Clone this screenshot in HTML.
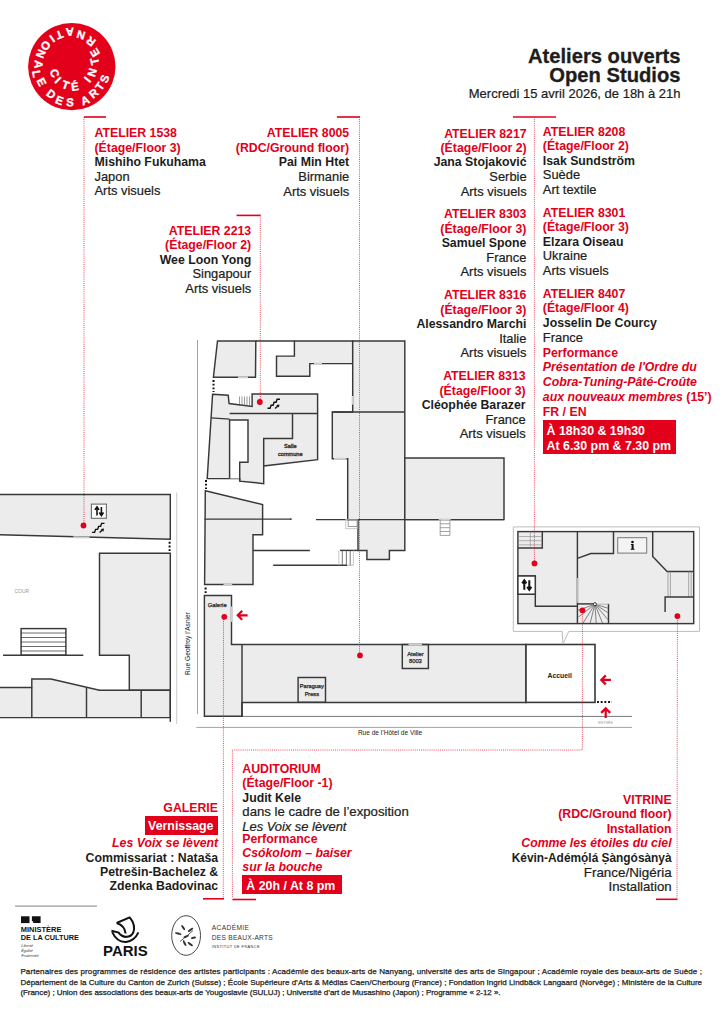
<!DOCTYPE html>
<html><head><meta charset="utf-8"><title>Ateliers ouverts</title><style>
*{margin:0;padding:0;box-sizing:border-box}
html,body{width:724px;height:1024px;overflow:hidden;background:#fff}
body{position:relative;font-family:"Liberation Sans",sans-serif;color:#1d1d1b}
.b{position:absolute;white-space:nowrap}
.r{color:#e2001a}
.bo{font-weight:bold;font-size:12.3px}
.it{font-style:italic}
.ra{text-align:right}
.box{background:#e2001a;color:#fff;font-weight:bold}
svg{position:absolute;left:0;top:0}
</style></head>
<body>
<svg width="724" height="1024" viewBox="0 0 724 1024">
<line x1="176.7" y1="492.4" x2="176.7" y2="724" stroke="#c4c4c4" stroke-width="0.9"/>
<line x1="197.5" y1="340" x2="197.5" y2="714" stroke="#8a8a8a" stroke-width="0.8"/>
<line x1="242" y1="716.4" x2="632" y2="716.4" stroke="#777" stroke-width="1"/>
<line x1="196.3" y1="727.4" x2="632" y2="727.4" stroke="#8a8a8a" stroke-width="0.8"/>
<polygon points="217.5,341 255.8,341 255.5,377.3 213.4,377.3" fill="#ececec" stroke="#383838" stroke-width="1.45" stroke-linejoin="miter"/>
<line x1="255.8" y1="341" x2="294.4" y2="341" stroke="#383838" stroke-width="1.45" fill="none" stroke-linejoin="miter"/>
<polygon points="294.4,341 352.7,341 352.7,363.6 309.8,363.6 309.8,376.2 276.5,376.2 276.5,356.1 294.4,356.1" fill="#ececec" stroke="#383838" stroke-width="1.45" stroke-linejoin="miter"/>
<polygon points="352.7,341 404.8,341 404.8,550.4 389.4,550.4 389.4,559.4 366.9,559.4 366.9,550.4 358,550.4 358,519.6 347.7,519.6 347.7,458.8 332.3,458.8 332.3,412 352.7,412" fill="#ececec" stroke="#383838" stroke-width="1.45" stroke-linejoin="miter"/>
<line x1="332.3" y1="412" x2="404.8" y2="412" stroke="#383838" stroke-width="1.45" fill="none" stroke-linejoin="miter"/>
<polygon points="404.8,457.9 504,457.9 504,519.6 404.8,519.6" fill="#ececec" stroke="#383838" stroke-width="1.45" stroke-linejoin="miter"/>
<line x1="316" y1="519.6" x2="504" y2="519.6" stroke="#383838" stroke-width="1.45" fill="none" stroke-linejoin="miter"/>
<line x1="290" y1="519.1" x2="291.5" y2="519.1" stroke="#383838" stroke-width="1.45" fill="none" stroke-linejoin="miter"/>
<polygon points="212.6,394.3 228.2,395.2 229.1,403.5 252.1,406.5 252.1,394 317.6,394 317.6,459.6 263.7,466 263.7,483.6 239.7,481.1 239.7,478.6 207.2,478.6" fill="#ececec" stroke="#383838" stroke-width="1.45" stroke-linejoin="miter"/>
<polygon points="229.6,420 248,420 248,462.2 239.7,462.2 239.7,478.6 229.6,478.6" fill="#fff" stroke="none"/>
<polyline points="229.6,478.6 229.6,420 248,420 248,462.2 239.7,462.2 239.7,481.1" stroke="#383838" stroke-width="1.45" fill="none" stroke-linejoin="miter"/>
<line x1="211" y1="417.9" x2="229.6" y2="419.1" stroke="#383838" stroke-width="1.45" fill="none" stroke-linejoin="miter"/>
<line x1="229.6" y1="413.4" x2="317.6" y2="413.4" stroke="#383838" stroke-width="1.45" fill="none" stroke-linejoin="miter"/>
<polyline points="292.5,413.4 292.5,438.5 263.7,438.5 263.7,466" stroke="#383838" stroke-width="1.45" fill="none" stroke-linejoin="miter"/>
<polygon points="205.3,490.8 262.6,504.5 262.6,534.7 253,534.7 253,584.4 204.6,584.4" fill="#ececec" stroke="#383838" stroke-width="1.45" stroke-linejoin="miter"/>
<line x1="204.6" y1="519.1" x2="291.5" y2="519.1" stroke="#383838" stroke-width="1.45" fill="none" stroke-linejoin="miter"/>
<line x1="253" y1="550.4" x2="309.9" y2="550.4" stroke="#383838" stroke-width="1.45" fill="none" stroke-linejoin="miter"/>
<line x1="273.2" y1="565.2" x2="347" y2="565.2" stroke="#383838" stroke-width="1.45" fill="none" stroke-linejoin="miter"/>
<line x1="347" y1="565.2" x2="353.4" y2="565.2" stroke="#bbb" stroke-width="1"/>
<line x1="340" y1="550.4" x2="358" y2="550.4" stroke="#383838" stroke-width="1.45" fill="none" stroke-linejoin="miter"/>
<polygon points="204.4,595.4 231.5,595.4 231.5,644.5 526,644.5 526,702.4 242,702.4 242,716.3 204.4,716.3" fill="#ececec" stroke="#383838" stroke-width="1.45" stroke-linejoin="miter"/>
<line x1="242" y1="644.5" x2="242" y2="716.3" stroke="#383838" stroke-width="1.45" fill="none" stroke-linejoin="miter"/>
<rect x="298.1" y="677.5" width="27.4" height="24.8" stroke="#383838" stroke-width="1.45" fill="none" stroke-linejoin="miter"/>
<rect x="402.3" y="644.5" width="26.1" height="24" stroke="#383838" stroke-width="1.45" fill="none" stroke-linejoin="miter"/>
<rect x="526" y="644.5" width="69" height="57.9" fill="#fff" stroke="#383838" stroke-width="1.6"/>
<polygon points="-2,494.4 170.3,494.4 170.3,539.2 -2,534.7" fill="#ececec" stroke="#383838" stroke-width="1.45" stroke-linejoin="miter"/>
<polygon points="99.5,553.3 170.3,553.3 170.3,690.3 129.3,690.3 129.3,655.2 99.5,655.2" fill="#ececec" stroke="#383838" stroke-width="1.45" stroke-linejoin="miter"/>
<polygon points="-2,687.5 31.8,687.5 31.8,679 51,679 99.5,690.3 170.3,690.3 170.3,717.6 -2,717.6" fill="#ececec" stroke="#383838" stroke-width="1.45" stroke-linejoin="miter"/>
<line x1="31.8" y1="687.5" x2="31.8" y2="717.6" stroke="#383838" stroke-width="1.45" fill="none" stroke-linejoin="miter"/>
<line x1="86.5" y1="687.3" x2="86.5" y2="717.6" stroke="#383838" stroke-width="1.45" fill="none" stroke-linejoin="miter"/>
<line x1="141.2" y1="690.3" x2="141.2" y2="717.6" stroke="#383838" stroke-width="1.45" fill="none" stroke-linejoin="miter"/>
<line x1="170.3" y1="690" x2="170.3" y2="721.8" stroke="#383838" stroke-width="1.45" fill="none" stroke-linejoin="miter"/>
<rect x="21.1" y="628.6" width="44.8" height="26.6" fill="#fff" stroke="#383838" stroke-width="1.45" fill="none" stroke-linejoin="miter"/>
<line x1="21.1" y1="633" x2="65.9" y2="633" stroke="#2b2b2b" stroke-width="0.7"/>
<line x1="21.1" y1="637.5" x2="65.9" y2="637.5" stroke="#2b2b2b" stroke-width="0.7"/>
<line x1="21.1" y1="642" x2="65.9" y2="642" stroke="#2b2b2b" stroke-width="0.7"/>
<line x1="21.1" y1="646.5" x2="65.9" y2="646.5" stroke="#2b2b2b" stroke-width="0.7"/>
<line x1="21.1" y1="651" x2="65.9" y2="651" stroke="#2b2b2b" stroke-width="0.7"/>
<line x1="3" y1="655.2" x2="83.3" y2="655.2" stroke="#383838" stroke-width="1.45" fill="none" stroke-linejoin="miter"/>
<polygon points="513.3,526.9 699.5,526.9 699.5,631.4 568.8,631.4 563,644 562.2,631.4 513.3,631.4" fill="#fff" stroke="#bdbdbd" stroke-width="1"/>
<rect x="517.9" y="531.6" width="175.8" height="92" fill="#ececec" stroke="#383838" stroke-width="1.45" stroke-linejoin="miter"/>
<polyline points="517.9,548 542.3,548 542.3,531.6" stroke="#383838" stroke-width="1.45" fill="none" stroke-linejoin="miter"/>
<line x1="517.9" y1="536.5" x2="542.3" y2="536.5" stroke="#888" stroke-width="0.6"/>
<line x1="517.9" y1="540.7" x2="542.3" y2="540.7" stroke="#888" stroke-width="0.6"/>
<line x1="517.9" y1="544.8" x2="542.3" y2="544.8" stroke="#888" stroke-width="0.6"/>
<line x1="530.3" y1="531.6" x2="530.3" y2="548" stroke="#888" stroke-width="0.6"/>
<line x1="577.4" y1="531.6" x2="577.4" y2="623.6" stroke="#383838" stroke-width="1.45" fill="none" stroke-linejoin="miter"/>
<line x1="577.4" y1="578" x2="577.4" y2="602.8" stroke="#bdbdbd" stroke-width="1.6"/>
<rect x="517.9" y="576" width="17.4" height="18.2" fill="#fff" stroke="#383838" stroke-width="1.45" fill="none" stroke-linejoin="miter"/>
<polyline points="535.3,594.2 535.3,606.2 577.4,606.2" stroke="#383838" stroke-width="1.45" fill="none" stroke-linejoin="miter"/>
<polyline points="577.4,603.9 593.4,603.9" stroke="#383838" stroke-width="1.45" fill="none" stroke-linejoin="miter"/>
<line x1="608.5" y1="603.9" x2="608.5" y2="623.6" stroke="#383838" stroke-width="1.45" fill="none" stroke-linejoin="miter"/>
<clipPath id="spc"><rect x="578.2" y="604.4" width="29.6" height="18.5"/></clipPath>
<path d="M594.9,604.2 L557.3,617.9 M594.9,604.2 L563.4,628.8 M594.9,604.2 L573.7,638.1 M594.9,604.2 L585.2,643.0 M594.9,604.2 L597.7,644.1 M594.9,604.2 L609.9,641.3 M594.9,604.2 L620.6,634.8 M594.9,604.2 L628.4,626.0 M594.9,604.2 L633.2,615.9 " stroke="#555" stroke-width="0.7" clip-path="url(#spc)"/>
<line x1="594.9" y1="604.2" x2="608.5" y2="604.2" stroke="#aaa" stroke-width="0.8"/>
<circle cx="594.9" cy="604.2" r="1.5" fill="#fff" stroke="#383838" stroke-width="1"/>
<polyline points="577.4,558.4 590.8,553.5 613.5,553.5 613.5,531.6" stroke="#383838" stroke-width="1.45" fill="none" stroke-linejoin="miter"/>
<rect x="617.7" y="537.7" width="29" height="15.4" fill="#f4f4f4" stroke="#777" stroke-width="1"/>
<polyline points="652.7,531.6 652.7,556.4 667.1,571.4 693.7,571.4" stroke="#383838" stroke-width="1.45" fill="none" stroke-linejoin="miter"/>
<line x1="668" y1="571.4" x2="668" y2="597" stroke="#777" stroke-width="0.6"/>
<line x1="670.4" y1="571.4" x2="670.4" y2="597" stroke="#777" stroke-width="0.6"/>
<line x1="688.7" y1="571.4" x2="688.7" y2="597" stroke="#777" stroke-width="0.6"/>
<line x1="691.2" y1="571.4" x2="691.2" y2="597" stroke="#777" stroke-width="0.6"/>
<polyline points="665.1,612 665.1,597 693.7,597" stroke="#383838" stroke-width="1.45" fill="none" stroke-linejoin="miter"/>
<line x1="239.5" y1="396.5" x2="239.5" y2="406" stroke="#555" stroke-width="0.6"/>
<line x1="242" y1="396.5" x2="242" y2="406" stroke="#555" stroke-width="0.6"/>
<line x1="244.5" y1="396.5" x2="244.5" y2="406" stroke="#555" stroke-width="0.6"/>
<line x1="247" y1="396.5" x2="247" y2="406" stroke="#555" stroke-width="0.6"/>
<line x1="249.5" y1="396.5" x2="249.5" y2="406" stroke="#555" stroke-width="0.6"/>
<line x1="438.8" y1="519.6" x2="450.7" y2="519.6" stroke="#d0d0d0" stroke-width="2"/>
<line x1="440.2" y1="523.8" x2="449.9" y2="523.8" stroke="#888" stroke-width="0.8"/>
<line x1="440.2" y1="527.7" x2="449.9" y2="527.7" stroke="#888" stroke-width="0.8"/>
<line x1="440.2" y1="531.5" x2="449.9" y2="531.5" stroke="#888" stroke-width="0.8"/>
<line x1="440.2" y1="535.4" x2="449.9" y2="535.4" stroke="#888" stroke-width="0.8"/>
<line x1="440.2" y1="519.6" x2="440.2" y2="535.4" stroke="#888" stroke-width="0.8"/>
<line x1="449.9" y1="519.6" x2="449.9" y2="535.4" stroke="#888" stroke-width="0.8"/>
<line x1="342.3" y1="550.4" x2="342.3" y2="565.2" stroke="#555" stroke-width="0.8"/>
<line x1="346.4" y1="550.4" x2="346.4" y2="565.2" stroke="#555" stroke-width="0.8"/>
<line x1="350.2" y1="550.4" x2="350.2" y2="565.2" stroke="#555" stroke-width="0.8"/>
<line x1="338.8" y1="550.4" x2="338.8" y2="565.2" stroke="#bbb" stroke-width="0.8"/>
<line x1="353.4" y1="550.4" x2="353.4" y2="565.2" stroke="#bbb" stroke-width="0.8"/>
<rect x="345.8" y="519.6" width="11.4" height="9.1" fill="none" stroke="#bbb" stroke-width="0.8"/><rect x="348.2" y="519.6" width="9" height="6.8" fill="none" stroke="#888" stroke-width="0.8"/>
<line x1="213.5" y1="380" x2="213.5" y2="392" stroke="#111" stroke-width="2" stroke-dasharray="1.9 1.8"/>
<line x1="206" y1="480" x2="206" y2="489" stroke="#111" stroke-width="2" stroke-dasharray="1.9 1.8"/>
<line x1="205.6" y1="587.5" x2="205.6" y2="594" stroke="#111" stroke-width="2" stroke-dasharray="1.9 1.8"/>
<line x1="169.6" y1="541.8" x2="169.6" y2="551.2" stroke="#111" stroke-width="2" stroke-dasharray="1.9 1.8"/>
<line x1="597" y1="701.9" x2="612" y2="701.9" stroke="#111" stroke-width="2" stroke-dasharray="1.9 1.8"/>
<line x1="238" y1="377.3" x2="248" y2="377.3" stroke="#d0d0d0" stroke-width="2"/>
<line x1="314" y1="363.6" x2="322" y2="363.6" stroke="#d0d0d0" stroke-width="2"/>
<line x1="352.7" y1="396" x2="352.7" y2="404.6" stroke="#d0d0d0" stroke-width="2"/>
<line x1="73.3" y1="537.3" x2="89.5" y2="537.6" stroke="#d0d0d0" stroke-width="2"/>
<line x1="223.5" y1="584.4" x2="232.2" y2="584.4" stroke="#d0d0d0" stroke-width="2"/>
<line x1="231.5" y1="606.5" x2="231.5" y2="621.9" stroke="#d0d0d0" stroke-width="2"/>
<line x1="408.5" y1="644.5" x2="422" y2="644.5" stroke="#d0d0d0" stroke-width="2"/>
<line x1="334" y1="458.8" x2="346.4" y2="458.8" stroke="#d0d0d0" stroke-width="2"/>
<rect x="91.4" y="504.1" width="15" height="14.2" fill="#fff" stroke="#6a6a6a" stroke-width="1.1"/>
<path d="M97.0,515.5 V508.4 M94.9,509.9 L97.0,506.9 L99.1,509.9 M101.4,506.9 V514.0 M99.30000000000001,512.5 L101.4,515.5 L103.5,512.5" fill="none" stroke="#111" stroke-width="1.6"/>
<rect x="517.9" y="576" width="17.4" height="18.2" fill="#fff" stroke="#383838" stroke-width="1.5"/>
<path d="M524.3,589.85 V581.85 M522.1999999999999,583.35 L524.3,580.35 L526.4,583.35 M529.3,580.35 V588.35 M527.1999999999999,586.85 L529.3,589.85 L531.4,586.85" fill="none" stroke="#111" stroke-width="2.0"/>
<path d="M92.0,532.4 L94.6,532.4 L95.6,529.4 L97.6,529.4 L98.6,526.4 L100.6,526.4 L101.6,523.4 L104.5,523.4" fill="none" stroke="#111" stroke-width="1.4" stroke-linejoin="miter"/>
<path d="M99.6,532.5 L102.4,529.9" fill="none" stroke="#111" stroke-width="1.4"/>
<path d="M104,528.5 L100.8,529.1 L103.4,531.6999999999999 Z" fill="#111"/>
<path d="M267.5,408.3 L270.1,408.3 L271.1,405.3 L273.1,405.3 L274.1,402.3 L276.1,402.3 L277.1,399.3 L280.0,399.3" fill="none" stroke="#111" stroke-width="1.4" stroke-linejoin="miter"/>
<path d="M275.1,408.40000000000003 L277.9,405.8" fill="none" stroke="#111" stroke-width="1.4"/>
<path d="M279.5,404.40000000000003 L276.3,405.0 L278.9,407.6 Z" fill="#111"/>
<circle cx="632.5" cy="542" r="1.35" fill="#111"/><path d="M630.9,543.9 H633.6 V548.3 L634.9,549.7 H630.3 L631.6,548.3 V545 H630.9 Z" fill="#111"/>
<text x="290.3" y="448" font-family="Liberation Sans" font-weight="normal" font-size="5.6" text-anchor="middle" fill="#222" stroke="#222" stroke-width="0.3">Salle</text>
<text x="290.3" y="455.8" font-family="Liberation Sans" font-weight="normal" font-size="5.6" text-anchor="middle" fill="#222" stroke="#222" stroke-width="0.3">commune</text>
<text x="217.2" y="607" font-family="Liberation Sans" font-weight="normal" font-size="5.9" text-anchor="middle" fill="#222" stroke="#222" stroke-width="0.25">Galerie</text>
<text x="311.8" y="688" font-family="Liberation Sans" font-weight="normal" font-size="5.6" text-anchor="middle" fill="#222" stroke="#222" stroke-width="0.25">Paraguay</text>
<text x="311.8" y="695.5" font-family="Liberation Sans" font-weight="normal" font-size="5.6" text-anchor="middle" fill="#222" stroke="#222" stroke-width="0.25">Press</text>
<text x="415.4" y="655.5" font-family="Liberation Sans" font-weight="normal" font-size="5.8" text-anchor="middle" fill="#222" stroke="#222" stroke-width="0.25">Atelier</text>
<text x="415.4" y="663" font-family="Liberation Sans" font-weight="normal" font-size="5.8" text-anchor="middle" fill="#222" stroke="#222" stroke-width="0.25">8003</text>
<text x="547.5" y="677.6" font-family="Liberation Sans" font-weight="bold" font-size="7.4" fill="#222" textLength="24.4" lengthAdjust="spacingAndGlyphs">Accueil</text>
<text x="357.9" y="734.5" font-family="Liberation Sans" font-size="6.6" fill="#222" textLength="64.3" lengthAdjust="spacingAndGlyphs">Rue de l’Hôtel de Ville</text>
<text x="605.5" y="723.8" font-family="Liberation Sans" font-weight="normal" font-size="3.6" text-anchor="middle" fill="#999">ENTRÉE</text>
<text x="21.75" y="593" font-family="Liberation Sans" font-weight="normal" font-size="5" text-anchor="middle" fill="#999">COUR</text>
<text x="-31.45" y="0" transform="translate(189.6,643.5) rotate(-90)" font-family="Liberation Sans" font-size="7.1" fill="#222" textLength="62.9" lengthAdjust="spacingAndGlyphs">Rue Geoffroy l’Asnier</text>
<line x1="84" y1="117" x2="106" y2="117" stroke="#e2001a" stroke-width="1.6" fill="none"/>
<line x1="84" y1="117" x2="84" y2="525" stroke="#e2001a" stroke-width="0.8" stroke-dasharray="1 1.1" fill="none" opacity="0.9"/>
<line x1="337" y1="117" x2="360" y2="117" stroke="#e2001a" stroke-width="1.6" fill="none"/>
<line x1="359.5" y1="117" x2="359.5" y2="655" stroke="#e2001a" stroke-width="0.8" stroke-dasharray="1 1.1" fill="none" opacity="0.9"/>
<line x1="236.5" y1="215.4" x2="260.6" y2="215.4" stroke="#e2001a" stroke-width="1.6" fill="none"/>
<line x1="260.3" y1="215.4" x2="260.3" y2="402" stroke="#e2001a" stroke-width="0.8" stroke-dasharray="1 1.1" fill="none" opacity="0.9"/>
<line x1="513" y1="117" x2="556" y2="117" stroke="#e2001a" stroke-width="1.6" fill="none"/>
<line x1="534.4" y1="117" x2="534.4" y2="563" stroke="#e2001a" stroke-width="0.8" stroke-dasharray="1 1.1" fill="none" opacity="0.9"/>
<polyline points="677.4,616 677,898" stroke="#e2001a" stroke-width="0.8" stroke-dasharray="1 1.1" fill="none" opacity="0.9"/>
<line x1="656" y1="899.3" x2="677.5" y2="899.3" stroke="#e2001a" stroke-width="1.6" fill="none"/>
<line x1="223.5" y1="617" x2="223.3" y2="898" stroke="#e2001a" stroke-width="0.8" stroke-dasharray="1 1.1" fill="none" opacity="0.9"/>
<line x1="203" y1="898.8" x2="224" y2="898.8" stroke="#e2001a" stroke-width="1.6" fill="none"/>
<polyline points="582.4,610 582.4,750 232.4,750 232.4,898.3" stroke="#e2001a" stroke-width="0.8" stroke-dasharray="1 1.1" fill="none" opacity="0.9"/>
<line x1="232.4" y1="899.5" x2="256" y2="899.5" stroke="#e2001a" stroke-width="1.6" fill="none"/>
<circle cx="83.5" cy="525.5" r="2.9" fill="#e2001a"/>
<circle cx="259.8" cy="402" r="2.9" fill="#e2001a"/>
<circle cx="224.3" cy="616.8" r="2.9" fill="#e2001a"/>
<circle cx="360" cy="655.4" r="2.9" fill="#e2001a"/>
<circle cx="534.5" cy="563.4" r="2.9" fill="#e2001a"/>
<circle cx="582.4" cy="610.3" r="2.9" fill="#e2001a"/>
<circle cx="677.4" cy="616.1" r="2.9" fill="#e2001a"/>
<path d="M247.6,615.3 H238.2 M242.2,610.8 L237.7,615.3 L242.2,619.8" fill="none" stroke="#e2001a" stroke-width="2.2"/>
<path d="M610.9,679.9 H601.8 M605.8,675.4 L601.3,679.9 L605.8,684.4" fill="none" stroke="#e2001a" stroke-width="2.2"/>
<path d="M605.7,718 V708.9 M601.2,712.9 L605.7,708.4 L610.2,712.9" fill="none" stroke="#e2001a" stroke-width="2.2"/>
<circle cx="71.8" cy="66.6" r="43.7" fill="#e2001a"/>
<text x="0" y="4.08" transform="translate(54.69,73.10) rotate(69.2)" font-family="Liberation Sans" font-weight="bold" font-size="11.4" text-anchor="middle" fill="#fff" stroke="#fff" stroke-width="0.35">C</text>
<text x="0" y="4.08" transform="translate(58.13,80.08) rotate(45.4)" font-family="Liberation Sans" font-weight="bold" font-size="11.4" text-anchor="middle" fill="#fff" stroke="#fff" stroke-width="0.35">I</text>
<text x="0" y="4.08" transform="translate(65.71,84.91) rotate(18.4)" font-family="Liberation Sans" font-weight="bold" font-size="11.4" text-anchor="middle" fill="#fff" stroke="#fff" stroke-width="0.35">T</text>
<text x="0" y="4.08" transform="translate(74.93,86.35) rotate(-9.0)" font-family="Liberation Sans" font-weight="bold" font-size="11.4" text-anchor="middle" fill="#fff" stroke="#fff" stroke-width="0.35">É</text>
<text x="0" y="4.08" transform="translate(87.29,79.41) rotate(-50.4)" font-family="Liberation Sans" font-weight="bold" font-size="11.4" text-anchor="middle" fill="#fff" stroke="#fff" stroke-width="0.35">I</text>
<text x="0" y="4.08" transform="translate(92.06,72.49) rotate(-73.8)" font-family="Liberation Sans" font-weight="bold" font-size="11.4" text-anchor="middle" fill="#fff" stroke="#fff" stroke-width="0.35">N</text>
<text x="0" y="4.08" transform="translate(94.53,61.48) rotate(-102.7)" font-family="Liberation Sans" font-weight="bold" font-size="11.4" text-anchor="middle" fill="#fff" stroke="#fff" stroke-width="0.35">T</text>
<text x="0" y="4.08" transform="translate(94.89,52.61) rotate(-121.2)" font-family="Liberation Sans" font-weight="bold" font-size="11.4" text-anchor="middle" fill="#fff" stroke="#fff" stroke-width="0.35">E</text>
<text x="0" y="4.08" transform="translate(90.70,41.52) rotate(-143.0)" font-family="Liberation Sans" font-weight="bold" font-size="11.4" text-anchor="middle" fill="#fff" stroke="#fff" stroke-width="0.35">R</text>
<text x="0" y="4.08" transform="translate(81.01,34.91) rotate(-163.8)" font-family="Liberation Sans" font-weight="bold" font-size="11.4" text-anchor="middle" fill="#fff" stroke="#fff" stroke-width="0.35">N</text>
<text x="0" y="4.08" transform="translate(69.87,32.15) rotate(-183.2)" font-family="Liberation Sans" font-weight="bold" font-size="11.4" text-anchor="middle" fill="#fff" stroke="#fff" stroke-width="0.35">A</text>
<text x="0" y="4.08" transform="translate(59.50,34.90) rotate(-201.2)" font-family="Liberation Sans" font-weight="bold" font-size="11.4" text-anchor="middle" fill="#fff" stroke="#fff" stroke-width="0.35">T</text>
<text x="0" y="4.08" transform="translate(52.35,38.71) rotate(-214.9)" font-family="Liberation Sans" font-weight="bold" font-size="11.4" text-anchor="middle" fill="#fff" stroke="#fff" stroke-width="0.35">I</text>
<text x="0" y="4.08" transform="translate(45.73,45.72) rotate(-231.3)" font-family="Liberation Sans" font-weight="bold" font-size="11.4" text-anchor="middle" fill="#fff" stroke="#fff" stroke-width="0.35">O</text>
<text x="0" y="4.08" transform="translate(40.90,53.93) rotate(-247.7)" font-family="Liberation Sans" font-weight="bold" font-size="11.4" text-anchor="middle" fill="#fff" stroke="#fff" stroke-width="0.35">N</text>
<text x="0" y="4.08" transform="translate(38.78,64.29) rotate(-266.0)" font-family="Liberation Sans" font-weight="bold" font-size="11.4" text-anchor="middle" fill="#fff" stroke="#fff" stroke-width="0.35">A</text>
<text x="0" y="4.08" transform="translate(36.73,73.80) rotate(-281.6)" font-family="Liberation Sans" font-weight="bold" font-size="11.4" text-anchor="middle" fill="#fff" stroke="#fff" stroke-width="0.35">L</text>
<text x="0" y="4.08" transform="translate(41.65,82.10) rotate(-297.2)" font-family="Liberation Sans" font-weight="bold" font-size="11.4" text-anchor="middle" fill="#fff" stroke="#fff" stroke-width="0.35">E</text>
<text x="0" y="4.08" transform="translate(51.22,93.91) rotate(-323.0)" font-family="Liberation Sans" font-weight="bold" font-size="11.4" text-anchor="middle" fill="#fff" stroke="#fff" stroke-width="0.35">D</text>
<text x="0" y="4.08" transform="translate(59.47,100.10) rotate(-339.8)" font-family="Liberation Sans" font-weight="bold" font-size="11.4" text-anchor="middle" fill="#fff" stroke="#fff" stroke-width="0.35">E</text>
<text x="0" y="4.08" transform="translate(69.94,102.15) rotate(-357.0)" font-family="Liberation Sans" font-weight="bold" font-size="11.4" text-anchor="middle" fill="#fff" stroke="#fff" stroke-width="0.35">S</text>
<text x="0" y="4.08" transform="translate(85.01,100.30) rotate(-381.4)" font-family="Liberation Sans" font-weight="bold" font-size="11.4" text-anchor="middle" fill="#fff" stroke="#fff" stroke-width="0.35">A</text>
<text x="0" y="4.08" transform="translate(93.48,93.18) rotate(-399.2)" font-family="Liberation Sans" font-weight="bold" font-size="11.4" text-anchor="middle" fill="#fff" stroke="#fff" stroke-width="0.35">R</text>
<text x="0" y="4.08" transform="translate(99.75,86.31) rotate(-414.8)" font-family="Liberation Sans" font-weight="bold" font-size="11.4" text-anchor="middle" fill="#fff" stroke="#fff" stroke-width="0.35">T</text>
<text x="0" y="4.08" transform="translate(104.53,78.71) rotate(-429.7)" font-family="Liberation Sans" font-weight="bold" font-size="11.4" text-anchor="middle" fill="#fff" stroke="#fff" stroke-width="0.35">S</text>
<line x1="15" y1="906.2" x2="97" y2="906.2" stroke="#9a9a9a" stroke-width="1.2"/>
<rect x="21" y="916.3" width="8.5" height="6.8" fill="#111"/><path d="M31.9,916.3 H40.6 V923.1 H33.2 V921.3 H31.9 Z" fill="#111"/>
<text x="20.8" y="932.4" font-family="Liberation Sans" font-weight="bold" font-style="normal" font-size="7.0" fill="#111" textLength="40.6" lengthAdjust="spacingAndGlyphs">MINISTÈRE</text>
<text x="20.8" y="940.0" font-family="Liberation Sans" font-weight="bold" font-style="normal" font-size="7.0" fill="#111" textLength="58" lengthAdjust="spacingAndGlyphs">DE LA CULTURE</text>
<text x="21.3" y="947.2" font-family="Liberation Sans" font-weight="normal" font-style="italic" font-size="3.6" fill="#333" textLength="12" lengthAdjust="spacingAndGlyphs">Liberté</text>
<text x="21.3" y="952.0" font-family="Liberation Sans" font-weight="normal" font-style="italic" font-size="3.6" fill="#333" textLength="11.5" lengthAdjust="spacingAndGlyphs">Égalité</text>
<text x="21.3" y="957.2" font-family="Liberation Sans" font-weight="normal" font-style="italic" font-size="3.6" fill="#333" textLength="17.4" lengthAdjust="spacingAndGlyphs">Fraternité</text>
<path d="M116.6,923 L129.7,917.4 Q136,925 133.3,932.5 Q131,937 126,936.8 M116.6,923 Q124.8,925.5 125.6,933.5" fill="none" stroke="#111" stroke-width="2" stroke-linejoin="round"/>
<path d="M111.4,930.8 L118.6,932.6 Q121.5,936.8 126.5,936.9 M112.2,932.2 Q117,942.5 126,942 Q134.5,941 138.4,932.4" fill="none" stroke="#111" stroke-width="2"/>
<text x="103.1" y="955.9" font-family="Liberation Sans" font-weight="bold" font-style="normal" font-size="15" fill="#111" textLength="44.6" lengthAdjust="spacingAndGlyphs">PARIS</text>
<ellipse cx="186.1" cy="935.5" rx="14.4" ry="19.8" fill="none" stroke="#333" stroke-width="0.9"/>
<path d="M180,941.5 Q186.5,936.5 193,930.5" stroke="#333" stroke-width="0.8" fill="none"/>
<ellipse cx="178.2" cy="933.6" rx="3.4" ry="1.05" transform="rotate(15 178.2 933.6)" fill="#333"/>
<ellipse cx="183.2" cy="927.6" rx="3.0" ry="1.05" transform="rotate(55 183.2 927.6)" fill="#333"/>
<ellipse cx="190.6" cy="929.8" rx="3.2" ry="1.05" transform="rotate(-35 190.6 929.8)" fill="#333"/>
<ellipse cx="186.2" cy="936.4" rx="3.0" ry="1.05" transform="rotate(-20 186.2 936.4)" fill="#333"/>
<ellipse cx="184.6" cy="943.2" rx="3.2" ry="1.05" transform="rotate(62 184.6 943.2)" fill="#333"/>
<ellipse cx="190.2" cy="944.2" rx="3.2" ry="1.05" transform="rotate(35 190.2 944.2)" fill="#333"/>
<ellipse cx="193.5" cy="937.8" rx="2.6" ry="1.05" transform="rotate(-15 193.5 937.8)" fill="#333"/>
<text x="211.8" y="929.6" font-family="Liberation Sans" font-size="6.6" fill="#333" textLength="37.2" lengthAdjust="spacing">ACADÉMIE</text>
<text x="211.8" y="939.8" font-family="Liberation Sans" font-size="6.6" fill="#333" textLength="60.9" lengthAdjust="spacing">DES BEAUX-ARTS</text>
<text x="211.8" y="948.0" font-family="Liberation Sans" font-size="3.9" fill="#333" textLength="47.8" lengthAdjust="spacing">INSTITUT DE FRANCE</text>
</svg>
<div class="b" style="right:43.5px;top:45px;height:22px;line-height:22px;font-size:20.2px;font-weight:bold;text-align:right;-webkit-text-stroke:0.3px #1d1d1b">Ateliers ouverts</div>
<div class="b" style="right:43.5px;top:64px;height:22px;line-height:22px;font-size:20.2px;font-weight:bold;text-align:right;-webkit-text-stroke:0.3px #1d1d1b">Open Studios</div>
<div class="b" style="right:43.5px;text-align:right;top:86px;height:16px;line-height:16px;font-size:13.0px;-webkit-text-stroke:0.22px #1d1d1b;">Mercredi 15 avril 2026, de 18h à 21h</div>
<div class="b" style="left:94.5px;top:125px;height:16px;line-height:16px;font-size:12.3px;color:#e2001a;font-weight:bold;">ATELIER 1538</div>
<div class="b" style="left:94.5px;top:140px;height:16px;line-height:16px;font-size:12.3px;color:#e2001a;font-weight:bold;">(Étage/Floor 3)</div>
<div class="b" style="left:94.5px;top:154px;height:16px;line-height:16px;font-size:12.3px;font-weight:bold;">Mishiho Fukuhama</div>
<div class="b" style="left:94.5px;top:169px;height:16px;line-height:16px;font-size:12.9px;-webkit-text-stroke:0.22px #1d1d1b;">Japon</div>
<div class="b" style="left:94.5px;top:183px;height:16px;line-height:16px;font-size:12.9px;-webkit-text-stroke:0.22px #1d1d1b;">Arts visuels</div>
<div class="b" style="right:374.8px;text-align:right;top:125px;height:16px;line-height:16px;font-size:12.3px;color:#e2001a;font-weight:bold;">ATELIER 8005</div>
<div class="b" style="right:374.8px;text-align:right;top:140px;height:16px;line-height:16px;font-size:12.3px;color:#e2001a;font-weight:bold;">(RDC/Ground floor)</div>
<div class="b" style="right:374.8px;text-align:right;top:154px;height:16px;line-height:16px;font-size:12.3px;font-weight:bold;">Pai Min Htet</div>
<div class="b" style="right:374.8px;text-align:right;top:169px;height:16px;line-height:16px;font-size:12.9px;-webkit-text-stroke:0.22px #1d1d1b;">Birmanie</div>
<div class="b" style="right:374.8px;text-align:right;top:184px;height:16px;line-height:16px;font-size:12.9px;-webkit-text-stroke:0.22px #1d1d1b;">Arts visuels</div>
<div class="b" style="right:472.8px;text-align:right;top:223px;height:16px;line-height:16px;font-size:12.3px;color:#e2001a;font-weight:bold;">ATELIER 2213</div>
<div class="b" style="right:472.8px;text-align:right;top:237px;height:16px;line-height:16px;font-size:12.3px;color:#e2001a;font-weight:bold;">(Étage/Floor 2)</div>
<div class="b" style="right:472.8px;text-align:right;top:252px;height:16px;line-height:16px;font-size:12.3px;font-weight:bold;">Wee Loon Yong</div>
<div class="b" style="right:472.8px;text-align:right;top:266px;height:16px;line-height:16px;font-size:12.9px;-webkit-text-stroke:0.22px #1d1d1b;">Singapour</div>
<div class="b" style="right:472.8px;text-align:right;top:281px;height:16px;line-height:16px;font-size:12.9px;-webkit-text-stroke:0.22px #1d1d1b;">Arts visuels</div>
<div class="b" style="right:197.39999999999998px;text-align:right;top:126px;height:16px;line-height:16px;font-size:12.3px;color:#e2001a;font-weight:bold;">ATELIER 8217</div>
<div class="b" style="right:197.39999999999998px;text-align:right;top:140px;height:16px;line-height:16px;font-size:12.3px;color:#e2001a;font-weight:bold;">(Étage/Floor 2)</div>
<div class="b" style="right:197.39999999999998px;text-align:right;top:154px;height:16px;line-height:16px;font-size:12.3px;font-weight:bold;">Jana Stojaković</div>
<div class="b" style="right:197.39999999999998px;text-align:right;top:169px;height:16px;line-height:16px;font-size:12.9px;-webkit-text-stroke:0.22px #1d1d1b;">Serbie</div>
<div class="b" style="right:197.39999999999998px;text-align:right;top:184px;height:16px;line-height:16px;font-size:12.9px;-webkit-text-stroke:0.22px #1d1d1b;">Arts visuels</div>
<div class="b" style="right:197.5999999999999px;text-align:right;top:206px;height:16px;line-height:16px;font-size:12.3px;color:#e2001a;font-weight:bold;">ATELIER 8303</div>
<div class="b" style="right:197.5999999999999px;text-align:right;top:221px;height:16px;line-height:16px;font-size:12.3px;color:#e2001a;font-weight:bold;">(Étage/Floor 3)</div>
<div class="b" style="right:197.5999999999999px;text-align:right;top:235px;height:16px;line-height:16px;font-size:12.3px;font-weight:bold;">Samuel Spone</div>
<div class="b" style="right:197.5999999999999px;text-align:right;top:250px;height:16px;line-height:16px;font-size:12.9px;-webkit-text-stroke:0.22px #1d1d1b;">France</div>
<div class="b" style="right:197.5999999999999px;text-align:right;top:264px;height:16px;line-height:16px;font-size:12.9px;-webkit-text-stroke:0.22px #1d1d1b;">Arts visuels</div>
<div class="b" style="right:197.5999999999999px;text-align:right;top:287px;height:16px;line-height:16px;font-size:12.3px;color:#e2001a;font-weight:bold;">ATELIER 8316</div>
<div class="b" style="right:197.5999999999999px;text-align:right;top:302px;height:16px;line-height:16px;font-size:12.3px;color:#e2001a;font-weight:bold;">(Étage/Floor 3)</div>
<div class="b" style="right:197.5999999999999px;text-align:right;top:316px;height:16px;line-height:16px;font-size:12.3px;font-weight:bold;">Alessandro Marchi</div>
<div class="b" style="right:197.5999999999999px;text-align:right;top:331px;height:16px;line-height:16px;font-size:12.9px;-webkit-text-stroke:0.22px #1d1d1b;">Italie</div>
<div class="b" style="right:197.5999999999999px;text-align:right;top:345px;height:16px;line-height:16px;font-size:12.9px;-webkit-text-stroke:0.22px #1d1d1b;">Arts visuels</div>
<div class="b" style="right:198.39999999999998px;text-align:right;top:368px;height:16px;line-height:16px;font-size:12.3px;color:#e2001a;font-weight:bold;">ATELIER 8313</div>
<div class="b" style="right:198.39999999999998px;text-align:right;top:383px;height:16px;line-height:16px;font-size:12.3px;color:#e2001a;font-weight:bold;">(Étage/Floor 3)</div>
<div class="b" style="right:198.39999999999998px;text-align:right;top:397px;height:16px;line-height:16px;font-size:12.3px;font-weight:bold;">Cléophée Barazer</div>
<div class="b" style="right:198.39999999999998px;text-align:right;top:412px;height:16px;line-height:16px;font-size:12.9px;-webkit-text-stroke:0.22px #1d1d1b;">France</div>
<div class="b" style="right:198.39999999999998px;text-align:right;top:426px;height:16px;line-height:16px;font-size:12.9px;-webkit-text-stroke:0.22px #1d1d1b;">Arts visuels</div>
<div class="b" style="left:542.8px;top:124px;height:16px;line-height:16px;font-size:12.3px;color:#e2001a;font-weight:bold;">ATELIER 8208</div>
<div class="b" style="left:542.8px;top:138px;height:16px;line-height:16px;font-size:12.3px;color:#e2001a;font-weight:bold;">(Étage/Floor 2)</div>
<div class="b" style="left:542.8px;top:153px;height:16px;line-height:16px;font-size:12.3px;font-weight:bold;">Isak Sundström</div>
<div class="b" style="left:542.8px;top:167px;height:16px;line-height:16px;font-size:12.9px;-webkit-text-stroke:0.22px #1d1d1b;">Suède</div>
<div class="b" style="left:542.8px;top:182px;height:16px;line-height:16px;font-size:12.9px;-webkit-text-stroke:0.22px #1d1d1b;">Art textile</div>
<div class="b" style="left:542.8px;top:205px;height:16px;line-height:16px;font-size:12.3px;color:#e2001a;font-weight:bold;">ATELIER 8301</div>
<div class="b" style="left:542.8px;top:219px;height:16px;line-height:16px;font-size:12.3px;color:#e2001a;font-weight:bold;">(Étage/Floor 3)</div>
<div class="b" style="left:542.8px;top:234px;height:16px;line-height:16px;font-size:12.3px;font-weight:bold;">Elzara Oiseau</div>
<div class="b" style="left:542.8px;top:248px;height:16px;line-height:16px;font-size:12.9px;-webkit-text-stroke:0.22px #1d1d1b;">Ukraine</div>
<div class="b" style="left:542.8px;top:263px;height:16px;line-height:16px;font-size:12.9px;-webkit-text-stroke:0.22px #1d1d1b;">Arts visuels</div>
<div class="b" style="left:542.8px;top:286px;height:16px;line-height:16px;font-size:12.3px;color:#e2001a;font-weight:bold;">ATELIER 8407</div>
<div class="b" style="left:542.8px;top:300px;height:16px;line-height:16px;font-size:12.3px;color:#e2001a;font-weight:bold;">(Étage/Floor 4)</div>
<div class="b" style="left:542.8px;top:315px;height:16px;line-height:16px;font-size:12.3px;font-weight:bold;">Josselin De Courcy</div>
<div class="b" style="left:542.8px;top:330px;height:16px;line-height:16px;font-size:12.9px;-webkit-text-stroke:0.22px #1d1d1b;">France</div>
<div class="b" style="left:542.8px;top:345px;height:16px;line-height:16px;font-size:12.3px;color:#e2001a;font-weight:bold;">Performance</div>
<div class="b" style="left:542.8px;top:359px;height:16px;line-height:16px;font-size:12.3px;color:#e2001a;font-weight:bold;font-style:italic;">Présentation de l'Ordre du</div>
<div class="b" style="left:542.8px;top:374px;height:16px;line-height:16px;font-size:12.3px;color:#e2001a;font-weight:bold;font-style:italic;">Cobra-Tuning-Pâté-Croûte</div>
<div class="b" style="left:542.8px;top:389px;height:16px;line-height:16px;font-size:12.3px;color:#e2001a;font-weight:bold;font-style:italic;">aux nouveaux membres<span style="font-style:normal"> (15’)</span></div>
<div class="b" style="left:542.8px;top:404px;height:16px;line-height:16px;font-size:12.3px;color:#e2001a;font-weight:bold;">FR / EN</div>
<div class="b" style="left:543px;top:420px;width:133px;height:33.5px;background:#e2001a"></div>
<div class="b" style="left:546.5px;top:423px;height:16px;line-height:16px;font-size:12.4px;font-weight:bold;color:#fff">À 18h30 &amp; 19h30</div>
<div class="b" style="left:546.5px;top:438px;height:16px;line-height:16px;font-size:12.4px;font-weight:bold;color:#fff">At 6.30 pm &amp; 7.30 pm</div>
<div class="b" style="right:506px;text-align:right;top:800px;height:16px;line-height:16px;font-size:12.3px;color:#e2001a;font-weight:bold;">GALERIE</div>
<div class="b" style="left:144.6px;top:815.5px;width:73.4px;height:19px;background:#e2001a"></div>
<div class="b" style="right:510.5px;text-align:right;top:818px;height:16px;line-height:16px;font-size:12.4px;font-weight:bold;color:#fff">Vernissage</div>
<div class="b" style="right:505.8px;text-align:right;top:835px;height:16px;line-height:16px;font-size:12.3px;color:#e2001a;font-weight:bold;font-style:italic;">Les Voix se lèvent</div>
<div class="b" style="right:505.8px;text-align:right;top:850px;height:16px;line-height:16px;font-size:12.3px;font-weight:bold;">Commissariat : Nataša</div>
<div class="b" style="right:505.8px;text-align:right;top:864px;height:16px;line-height:16px;font-size:12.3px;font-weight:bold;">Petrešin-Bachelez &amp;</div>
<div class="b" style="right:505.8px;text-align:right;top:878px;height:16px;line-height:16px;font-size:12.3px;font-weight:bold;">Zdenka Badovinac</div>
<div class="b" style="left:242.3px;top:761px;height:16px;line-height:16px;font-size:12.3px;color:#e2001a;font-weight:bold;">AUDITORIUM</div>
<div class="b" style="left:242.3px;top:775px;height:16px;line-height:16px;font-size:12.3px;color:#e2001a;font-weight:bold;">(Étage/Floor -1)</div>
<div class="b" style="left:242.3px;top:790px;height:16px;line-height:16px;font-size:12.3px;font-weight:bold;">Judit Kele</div>
<div class="b" style="left:242.3px;top:804px;height:16px;line-height:16px;font-size:13.2px;-webkit-text-stroke:0.22px #1d1d1b;">dans le cadre de l’exposition</div>
<div class="b" style="left:242.3px;top:819px;height:16px;line-height:16px;font-size:12.9px;font-style:italic;-webkit-text-stroke:0.22px #1d1d1b;">Les Voix se lèvent</div>
<div class="b" style="left:242.3px;top:831px;height:16px;line-height:16px;font-size:12.3px;color:#e2001a;font-weight:bold;">Performance</div>
<div class="b" style="left:242.3px;top:845px;height:16px;line-height:16px;font-size:12.3px;color:#e2001a;font-weight:bold;font-style:italic;">Csókolom – baiser</div>
<div class="b" style="left:242.3px;top:859px;height:16px;line-height:16px;font-size:12.3px;color:#e2001a;font-weight:bold;font-style:italic;">sur la bouche</div>
<div class="b" style="left:242.3px;top:875.2px;width:99.3px;height:18.5px;background:#e2001a"></div>
<div class="b" style="left:246.3px;top:878px;height:16px;line-height:16px;font-size:12.4px;font-weight:bold;color:#fff">À 20h / At 8 pm</div>
<div class="b" style="right:52.39999999999998px;text-align:right;top:792px;height:16px;line-height:16px;font-size:12.3px;color:#e2001a;font-weight:bold;">VITRINE</div>
<div class="b" style="right:52.39999999999998px;text-align:right;top:806px;height:16px;line-height:16px;font-size:12.3px;color:#e2001a;font-weight:bold;">(RDC/Ground floor)</div>
<div class="b" style="right:52.39999999999998px;text-align:right;top:821px;height:16px;line-height:16px;font-size:12.3px;color:#e2001a;font-weight:bold;">Installation</div>
<div class="b" style="right:52.39999999999998px;text-align:right;top:835px;height:16px;line-height:16px;font-size:12.3px;color:#e2001a;font-weight:bold;font-style:italic;">Comme les étoiles du ciel</div>
<div class="b" style="right:52.39999999999998px;text-align:right;top:850px;height:16px;line-height:16px;font-size:11.9px;font-weight:bold;">Kévin-Adémọ́lá Ṣàngósànyà</div>
<div class="b" style="right:52.39999999999998px;text-align:right;top:865px;height:16px;line-height:16px;font-size:13.4px;-webkit-text-stroke:0.22px #1d1d1b;">France/Nigéria</div>
<div class="b" style="right:52.39999999999998px;text-align:right;top:879px;height:16px;line-height:16px;font-size:13.2px;-webkit-text-stroke:0.22px #1d1d1b;">Installation</div>
<div class="b" style="left:20.4px;top:967px;font-size:8.0px;line-height:10px;letter-spacing:0.116px;-webkit-text-stroke:0.25px #1d1d1b">Partenaires des programmes de résidence des artistes participants : Académie des beaux-arts de Nanyang, université des arts de Singapour ; Académie royale des beaux-arts de Suède ;</div>
<div class="b" style="left:20.4px;top:978px;font-size:8.0px;line-height:10px;letter-spacing:0.012px;-webkit-text-stroke:0.25px #1d1d1b">Département de la Culture du Canton de Zurich (Suisse) ; École Supérieure d’Arts &amp; Médias Caen/Cherbourg (France) ; Fondation Ingrid Lindbäck Langaard (Norvège) ; Ministère de la Culture</div>
<div class="b" style="left:20.4px;top:988px;font-size:8.0px;line-height:10px;letter-spacing:-0.051px;-webkit-text-stroke:0.25px #1d1d1b">(France) ; Union des associations des beaux-arts de Yougoslavie (SULUJ) ; Université d’art de Musashino (Japon) ; Programme « 2-12 ».</div>
</body></html>
